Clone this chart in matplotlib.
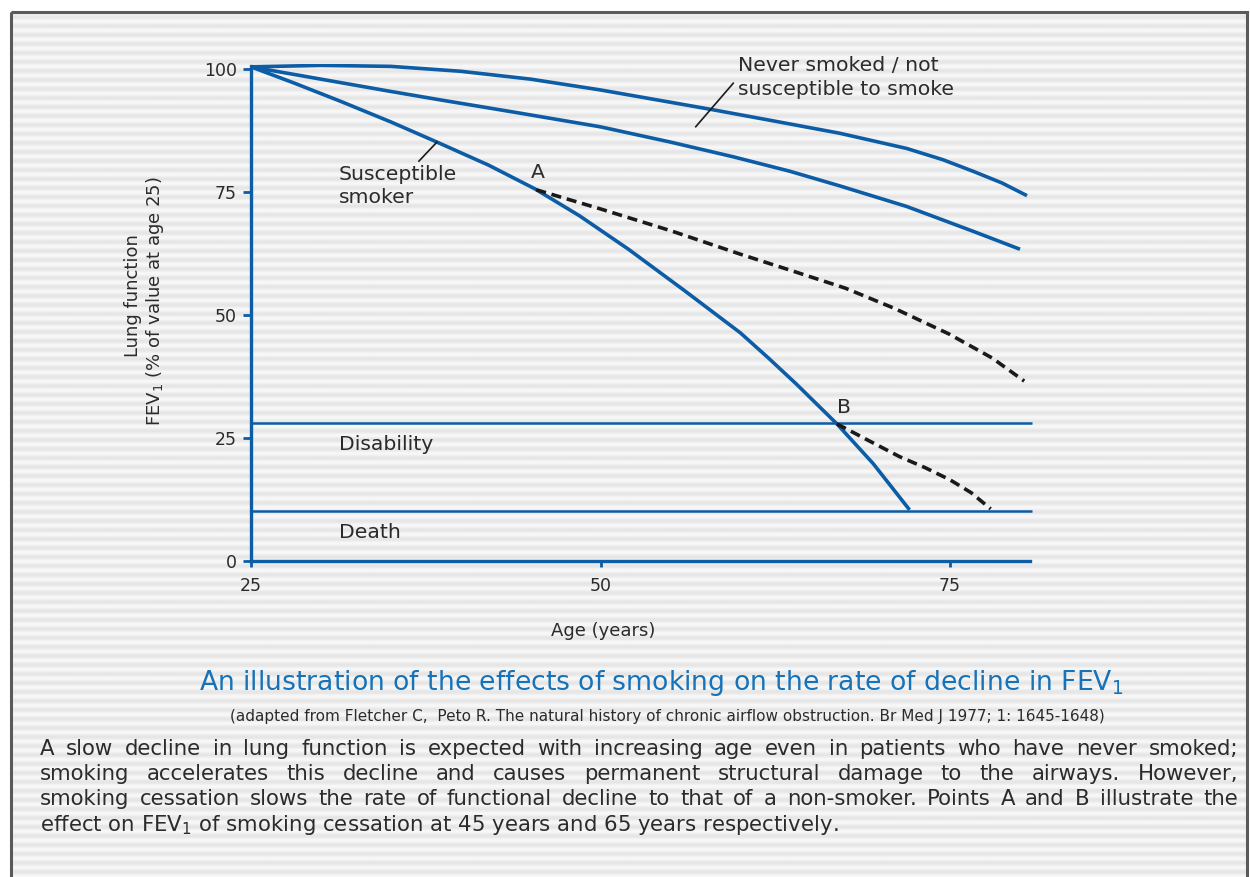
import numpy as np
import matplotlib
matplotlib.use("Agg")
import matplotlib.pyplot as plt
from matplotlib.patches import Rectangle

BLUE = '#0d5ca6'
TITLE_BLUE = '#1672b9'
INK = '#2b2b2b'

# age (years) vs FEV1 (% of value at age 25)
never_age = [25, 30, 35, 40, 45, 50, 54, 57.8, 62, 67.1, 71.9, 74.5, 76.7, 78.7, 80.5]
never_fev = [100.5, 100.8, 100.6, 99.6, 98.0, 95.8, 93.8, 91.9, 89.7, 87.0, 83.9, 81.6, 79.2, 76.9, 74.3]

mid_age = [25, 30, 35, 38.5, 44, 50, 55, 59.5, 63.5, 67.1, 71.9, 76.7, 80]
mid_fev = [100.5, 98.0, 95.5, 93.8, 91.2, 88.3, 85.2, 82.2, 79.3, 76.3, 72.1, 67.0, 63.4]

smoker_age = [25, 28, 31.4, 35, 38.3, 42, 45.3, 48.5, 52, 56, 60, 62, 64, 66.9, 69.5, 72.1]
smoker_fev = [100.5, 97.3, 93.5, 89.3, 85.2, 80.5, 75.7, 70.2, 63.4, 55.0, 46.4, 41.3, 36.0, 27.9, 19.8, 10.4]

# stopped smoking at A (45 y) and B (65 y)
stopA_age = [45.4, 50, 55.1, 60, 63.5, 67.5, 71, 74.9, 78, 80.3]
stopA_fev = [75.5, 71.6, 67.1, 62.4, 59.2, 55.5, 51.4, 46.2, 41.3, 36.6]

stopB_age = [66.9, 69.1, 71.4, 73.2, 75.0, 76.5, 77.9]
stopB_fev = [27.9, 24.6, 21.2, 19.0, 16.5, 13.9, 10.6]

disability_level = 28.0
death_level = 10.2

x_ticks = [25, 50, 75]
y_ticks = [0, 25, 50, 75, 100]

paragraph = [
    "A slow decline in lung function is expected with increasing age even in patients who have never smoked;",
    "smoking accelerates this decline and causes permanent structural damage to the airways. However,",
    "smoking cessation  slows the rate of functional decline to that of a non-smoker. Points A and B illustrate the",
    "effect on FEV$_1$ of smoking cessation at 45 years and 65 years respectively.",
]

W, H = 1250, 877
fig = plt.figure(figsize=(W / 100, H / 100), dpi=100)
fig.patch.set_facecolor('white')

# striped panel behind everything
bg = fig.add_axes([0, 0, 1, 1], zorder=-5)
bg.set_xlim(0, W)
bg.set_ylim(H, 0)
bg.axis('off')
rows = np.arange(H - 12)
stripe = 0.935 + 0.035 * np.cos(2 * np.pi * rows / 9.0)
bg.imshow(np.tile(stripe[:, None], (1, 4)), cmap='gray', vmin=0, vmax=1,
          extent=[11, 1247, H, 12], aspect='auto', interpolation='bilinear')
bg.add_patch(Rectangle((11, 12), 1236, H, fill=False, edgecolor='#5a5a5a', lw=2.2))


def fx(px):
    return px / W


def fy(py):
    return 1 - py / H


ax = fig.add_axes([fx(251), fy(561), (1034 - 251) / W, (561 - 64.4) / H])
ax.patch.set_alpha(0)
ax.set_xlim(25, 81)
ax.set_ylim(0, 101)
for s in ['top', 'right']:
    ax.spines[s].set_visible(False)
for s in ['left', 'bottom']:
    ax.spines[s].set_color(BLUE)
    ax.spines[s].set_linewidth(2.4)
ax.spines['left'].set_bounds(0, 100.6)
ax.spines['bottom'].set_bounds(25, 80.7)
ax.set_xticks(x_ticks)
ax.set_yticks(y_ticks)
ax.tick_params(axis='x', direction='out', length=4.5, width=2, color=BLUE,
               labelcolor=INK, labelsize=12.5, pad=7)
ax.tick_params(axis='y', direction='out', length=6, width=2, color=BLUE,
               labelcolor=INK, labelsize=12.5, pad=4)

ax.hlines([disability_level, death_level], 25, 80.85, color=BLUE, lw=1.8)

ax.plot(never_age, never_fev, color=BLUE, lw=2.6, solid_capstyle='butt', solid_joinstyle='round')
ax.plot(mid_age, mid_fev, color=BLUE, lw=2.6, solid_capstyle='butt', solid_joinstyle='round')
ax.plot(smoker_age, smoker_fev, color=BLUE, lw=2.6, solid_capstyle='butt', solid_joinstyle='round')
ax.plot(stopA_age, stopA_fev, color='#1a1a1a', lw=2.6, ls=(0, (2.8, 1.6)))
ax.plot(stopB_age, stopB_fev, color='#1a1a1a', lw=2.6, ls=(0, (2.8, 1.6)))

lab = dict(color=INK, fontsize=14.7)
ax.text(31.3, 80.6, 'Susceptible\nsmoker', ha='left', va='top', linespacing=1.3, **lab)
ax.text(59.8, 102.8, 'Never smoked / not\nsusceptible to smoke', ha='left', va='top',
        linespacing=1.35, **lab)
ax.text(31.3, 22.6, 'Disability', ha='left', va='baseline', **lab)
ax.text(31.3, 4.7, 'Death', ha='left', va='baseline', **lab)
ax.text(45.5, 77.9, 'A', ha='center', va='baseline', **lab)
ax.text(67.4, 30.1, 'B', ha='center', va='baseline', **lab)

lead = dict(arrowstyle='-', color='#1a1a1a', lw=1.2, shrinkA=0, shrinkB=0)
ax.annotate('', xy=(38.3, 85.2), xytext=(37.0, 81.3), arrowprops=lead)
ax.annotate('', xy=(56.8, 88.3), xytext=(59.5, 97.2), arrowprops=lead)

fig.text(fx(603), fy(631), 'Age (years)', ha='center', va='center', color=INK, fontsize=13)
fig.text(fx(133), fy(296), 'Lung function', rotation=90, ha='center', va='center',
         color=INK, fontsize=13)
fig.text(fx(155), fy(301), 'FEV$_1$ (% of value at age 25)', rotation=90, ha='center',
         va='center', color=INK, fontsize=13)

fig.text(fx(661), fy(690), 'An illustration of the effects of smoking on the rate of decline in FEV$_1$',
         ha='center', va='baseline', color=TITLE_BLUE, fontsize=19.2)
fig.text(fx(667), fy(721),
         '(adapted from Fletcher C,  Peto R. The natural history of chronic airflow obstruction. '
         'Br Med J 1977; 1: 1645-1648)',
         ha='center', va='baseline', color=INK, fontsize=11)

# justified paragraph
renderer = fig.canvas.get_renderer()
left, right = 40, 1238
baselines = [755, 780, 805, 831]
for i, line in enumerate(paragraph):
    y = fy(baselines[i])
    if i == len(paragraph) - 1:
        fig.text(fx(left), y, line, ha='left', va='baseline', color=INK, fontsize=15.3)
        continue
    words = line.split()
    arts = [fig.text(0, y, w, ha='left', va='baseline', color=INK, fontsize=15.3) for w in words]
    widths = [a.get_window_extent(renderer).width for a in arts]
    gap = (right - left - sum(widths)) / (len(words) - 1)
    x = left
    for a, w in zip(arts, widths):
        a.set_x(fx(x))
        x += w + gap

fig.savefig('out.png', dpi=100)
